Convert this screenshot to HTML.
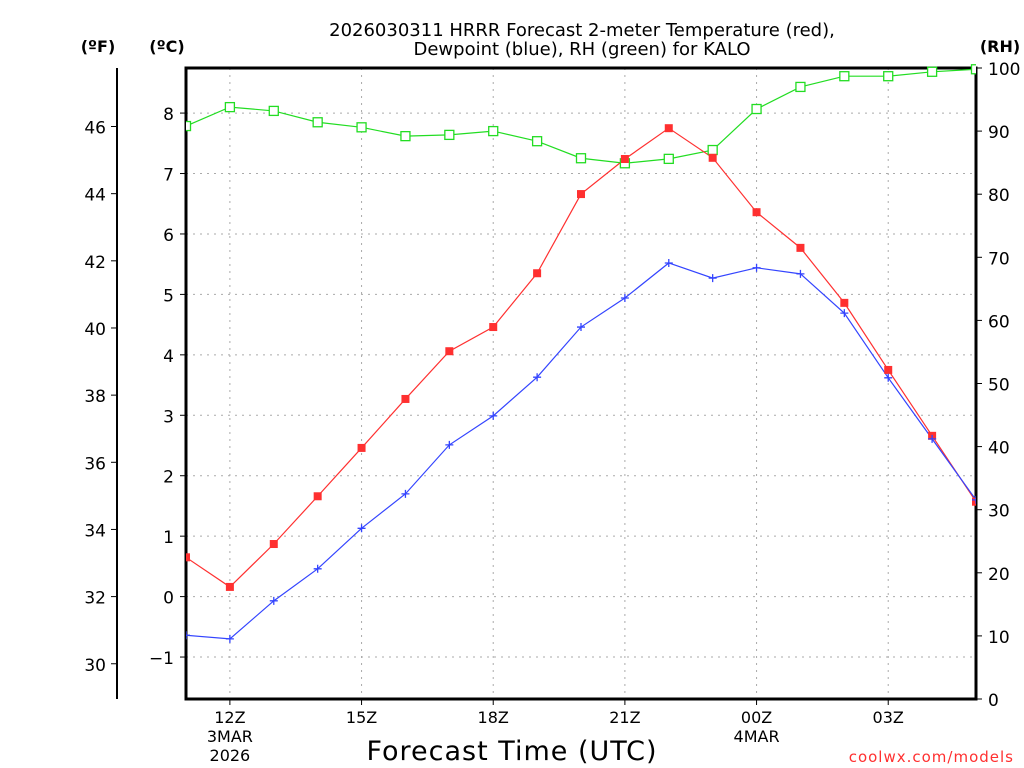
<!DOCTYPE html>
<html><head><meta charset="utf-8"><style>
html,body{margin:0;padding:0;background:#fff;width:1024px;height:768px;overflow:hidden}
svg{display:block;font-family:"DejaVu Sans","Liberation Sans",sans-serif}
</style></head><body>
<svg id="chart" width="1024" height="768" viewBox="0 0 1024 768" xmlns="http://www.w3.org/2000/svg">
<text x="582" y="36" text-anchor="middle" font-size="18" fill="#000">2026030311 HRRR Forecast 2-meter Temperature (red),</text>
<text x="582" y="55" text-anchor="middle" font-size="18" fill="#000">Dewpoint (blue), RH (green) for KALO</text>
<text x="98" y="52" text-anchor="middle" font-size="16" font-weight="bold">(ºF)</text>
<text x="167" y="52" text-anchor="middle" font-size="16" font-weight="bold">(ºC)</text>
<text x="1000" y="52" text-anchor="middle" font-size="16" font-weight="bold">(RH)</text>
<text x="512" y="760" text-anchor="middle" font-size="27" letter-spacing="1">Forecast Time (UTC)</text>
<text x="1014" y="762" text-anchor="end" font-size="15" fill="#ff3030" letter-spacing="1">coolwx.com/models</text>
<g id="grid"></g><g id="axes"></g><g id="series"></g>
</svg>
<script>
const hours = [11,12,13,14,15,16,17,18,19,20,21,22,23,24,25,26,27,28,29];
const tempC = [0.65,0.16,0.87,1.66,2.46,3.27,4.06,4.46,5.35,6.66,7.24,7.75,7.26,6.36,5.77,4.86,3.75,2.66,1.57];
const dewC = [-0.64,-0.70,-0.07,0.46,1.13,1.70,2.51,2.99,3.63,4.46,4.94,5.52,5.27,5.44,5.34,4.69,3.62,2.61,1.60];
const rh = [90.8,93.8,93.2,91.4,90.6,89.2,89.4,90.0,88.4,85.7,84.9,85.6,87.0,93.5,97.0,98.7,98.7,99.4,99.8];
const cTicks = [-1,0,1,2,3,4,5,6,7,8];
const fTicks = [30,32,34,36,38,40,42,44,46];
const rhTicks = [0,10,20,30,40,50,60,70,80,90,100];
const xTickHours = [12,15,18,21,24,27];
const xTickLabels = ["12Z","15Z","18Z","21Z","00Z","03Z"];
const xTickSub = [["3MAR","2026"],[],[],[],["4MAR"],[]];

const L=186,R=976,T=68,B=699;
const X = h => L + (h-11)*(R-L)/18;
const YC = c => 596.6 - c*60.44;
const YF = f => YC((f-32)/1.8);
const YR = r => B - r*(B-T)/100;
const NS="http://www.w3.org/2000/svg";
function mk(parent,tag,attrs){const e=document.createElementNS(NS,tag);for(const k in attrs)e.setAttribute(k,attrs[k]);parent.appendChild(e);return e;}
const grid=document.getElementById('grid'),axes=document.getElementById('axes'),series=document.getElementById('series');

cTicks.forEach(c=>{const y=YC(c);
 const g=mk(grid,'line',{x1:L,x2:R,y1:y,y2:y,stroke:'#aaa','stroke-dasharray':'2,5'});
 
 
 mk(axes,'line',{x1:L-6,x2:L,y1:y,y2:y,stroke:'#000'});
 const t=mk(axes,'text',{x:L-12,y:y+7,'text-anchor':'end','font-size':'17',fill:'#000'});
 t.textContent=c<0?'\u2212'+Math.abs(c):String(c);
 
 
});
xTickHours.forEach((h,i)=>{const x=X(h);
 const g=mk(grid,'line',{x1:x,x2:x,y1:T,y2:B,stroke:'#aaa','stroke-dasharray':'2,5'});
 
 
 mk(axes,'line',{x1:x,x2:x,y1:B,y2:B+6,stroke:'#000'});
 const t=mk(axes,'text',{x:x,y:B+24,'text-anchor':'middle','font-size':'16'});
 t.textContent=xTickLabels[i];
 
 
 xTickSub[i].forEach((s,j)=>{const st=mk(axes,'text',{x:x,y:B+43+j*19,'text-anchor':'middle','font-size':'16'});st.textContent=s;
  
  });
});
fTicks.forEach(f=>{const y=YF(f);
 mk(axes,'line',{x1:111,x2:117,y1:y,y2:y,stroke:'#000'});
 const t=mk(axes,'text',{x:106,y:y+7,'text-anchor':'end','font-size':'17'});t.textContent=f;
 
 
});
mk(axes,'line',{x1:117,x2:117,y1:68,y2:699,stroke:'#000','stroke-width':2});
rhTicks.forEach(r=>{const y=YR(r);
 mk(axes,'line',{x1:R,x2:R+6,y1:y,y2:y,stroke:'#000'});
 const t=mk(axes,'text',{x:R+12,y:y+7,'text-anchor':'start','font-size':'17'});t.textContent=r;
 
 
});
const frame=mk(axes,'rect',{x:L,y:T,width:R-L,height:B-T,fill:'none',stroke:'#000','stroke-width':3});



function line(vals,yf,color,name){
 const p=mk(series,'polyline',{points:vals.map((v,i)=>X(hours[i])+','+yf(v)).join(' '),fill:'none',stroke:color,'stroke-width':1.2});
 
 
}
const clip=mk(series,'clipPath',{id:'pc'});mk(clip,'rect',{x:L,y:T-6,width:R-L,height:B-T+12});
series.setAttribute('clip-path','url(#pc)');
line(rh,YR,'#22dd22','rh');
line(tempC,YC,'#ff3030','temperature');
line(dewC,YC,'#3344ff','dewpoint');
rh.forEach((v,i)=>{const m=mk(series,'rect',{x:X(hours[i])-4.5,y:YR(v)-4.5,width:9,height:9,fill:'#fff',stroke:'#22dd22','stroke-width':1.3});
 
 });
tempC.forEach((v,i)=>{const m=mk(series,'rect',{x:X(hours[i])-4,y:YC(v)-4,width:8,height:8,fill:'#ff3030'});
 
 });
dewC.forEach((v,i)=>{const x=X(hours[i]),y=YC(v);
 const m=mk(series,'path',{d:`M${x-4},${y}H${x+4}M${x},${y-4}V${y+4}`,stroke:'#3344ff','stroke-width':1.3});
 
 });
</script>
</body></html>
